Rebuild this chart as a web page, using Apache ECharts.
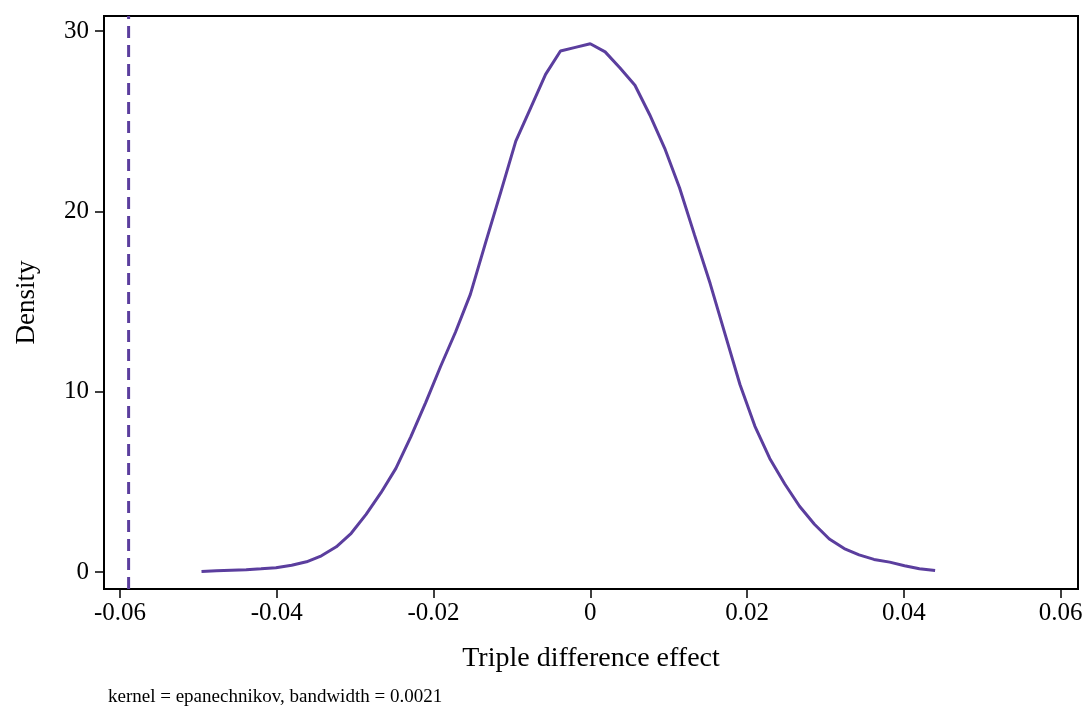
<!doctype html>
<html>
    <head>
        <meta charset="utf-8">
        <title>Kernel density of triple difference effect</title>
        <style>
            html, body { margin: 0; padding: 0; background: #fff; }
            #main { width: 1088px; height: 711px; }
        </style>
    </head>
    <body>
        <div id="main"></div>
        <script src="https://cdn.jsdelivr.net/npm/echarts@6/dist/echarts.min.js"></script>
        <script>
            // kdensity estimate, 50 points
            var xVals = [-0.0496, -0.0477, -0.0458, -0.0439, -0.0420, -0.0401, -0.0381, -0.0362, -0.0343, -0.0324,
                         -0.0305, -0.0286, -0.0267, -0.0248, -0.0229, -0.0210, -0.0191, -0.0172, -0.0153, -0.0134,
                         -0.0114, -0.0095, -0.0076, -0.0057, -0.0038, -0.0019, 0.0000, 0.0019, 0.0038, 0.0057,
                         0.0076, 0.0095, 0.0114, 0.0133, 0.0153, 0.0172, 0.0191, 0.0210, 0.0229, 0.0248,
                         0.0267, 0.0286, 0.0305, 0.0324, 0.0343, 0.0362, 0.0382, 0.0401, 0.0420, 0.0440];
            var density = [0.03, 0.07, 0.10, 0.13, 0.18, 0.24, 0.38, 0.57, 0.90, 1.40,
                           2.15, 3.20, 4.40, 5.75, 7.50, 9.40, 11.40, 13.30, 15.40, 18.20,
                           21.10, 23.90, 25.75, 27.60, 28.90, 29.10, 29.30, 28.85, 27.95, 27.00,
                           25.35, 23.50, 21.30, 18.70, 16.00, 13.20, 10.40, 8.10, 6.30, 4.90,
                           3.65, 2.65, 1.83, 1.30, 0.95, 0.70, 0.55, 0.35, 0.18, 0.08];
            var actualEffect = -0.0589;   // dashed reference line
            var xTicks = [-0.06, -0.04, -0.02, 0, 0.02, 0.04, 0.06];
            var yTicks = [0, 10, 20, 30];
            var yMin = -0.94, yMax = 30.84;

            var purple = '#5b3e9e';
            var font = '"Liberation Serif", "DejaVu Serif", serif';

            var chart = echarts.init(document.getElementById('main'));

            var points = xVals.map(function (x, i) { return [x, density[i]]; });

            chart.setOption({
                animation: false,
                backgroundColor: '#fff',
                grid: {
                    left: 104, right: 10, top: 16, bottom: 122,
                    show: true, borderColor: '#000', borderWidth: 2
                },
                xAxis: {
                    type: 'value',
                    min: -0.06204, max: 0.06223,
                    name: 'Triple difference effect',
                    nameLocation: 'middle',
                    nameGap: 56,
                    nameTextStyle: { fontFamily: font, fontSize: 28, color: '#000' },
                    splitLine: { show: false },
                    axisLine: { show: true, onZero: false, lineStyle: { color: '#000', width: 2 } },
                    axisTick: { show: true, inside: false, length: 9, lineStyle: { color: '#000', width: 1.5 }, customValues: xTicks },
                    axisLabel: {
                        customValues: xTicks,
                        fontFamily: font, fontSize: 25, color: '#000', margin: 12,
                        formatter: function (v) { return v === 0 ? '0' : String(Number(v.toFixed(2))); }
                    }
                },
                yAxis: {
                    type: 'value',
                    min: yMin, max: yMax,
                    name: 'Density',
                    nameLocation: 'middle',
                    nameGap: 64,
                    nameRotate: 90,
                    nameTextStyle: { fontFamily: font, fontSize: 27, color: '#000' },
                    splitLine: { show: false },
                    axisLine: { show: true, onZero: false, lineStyle: { color: '#000', width: 2 } },
                    axisTick: { show: true, inside: false, length: 9, lineStyle: { color: '#000', width: 1.5 }, customValues: yTicks },
                    axisLabel: {
                        customValues: yTicks,
                        fontFamily: font, fontSize: 25, color: '#000', margin: 15
                    }
                },
                graphic: [{
                    type: 'text',
                    left: 108, top: 688,
                    style: {
                        text: 'kernel = epanechnikov, bandwidth = 0.0021',
                        font: '19px ' + font,
                        fill: '#000'
                    }
                }],
                series: [{
                    type: 'line',
                    data: points,
                    showSymbol: false,
                    smooth: false,
                    lineStyle: { color: purple, width: 3 }
                }, {
                    // vertical dashed line spanning the plot region
                    type: 'line',
                    data: [[actualEffect, yMin], [actualEffect, yMax]],
                    showSymbol: false,
                    lineStyle: { color: purple, width: 3, type: [12, 7] }
                }]
            });
        </script>
    </body>
</html>
